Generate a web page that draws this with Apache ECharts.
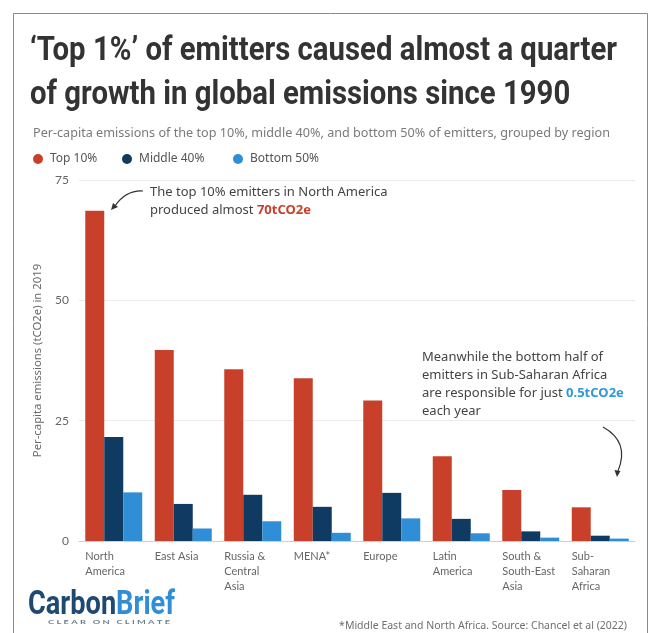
<!DOCTYPE html>
<html>
<head>
<meta charset="utf-8">
<script src="https://cdn.jsdelivr.net/npm/echarts@6/dist/echarts.min.js"></script>
<style>
html,body{margin:0;padding:0;background:#fff;}
#chart{width:654px;height:633px;}
</style>
</head>
<body>
<div id="chart"></div>
<script>
const categories = ["North\nAmerica", "East Asia", "Russia &\nCentral\nAsia", "MENA*", "Europe", "Latin\nAmerica", "South &\nSouth-East\nAsia", "Sub-\nSaharan\nAfrica"];
const seriesNames = ["Top 10%", "Middle 40%", "Bottom 50%"];
const top10 = [68.6, 39.7, 35.7, 33.8, 29.2, 17.6, 10.6, 7.0];
const middle40 = [21.6, 7.7, 9.6, 7.1, 10.0, 4.6, 2.0, 1.1];
const bottom50 = [10.1, 2.6, 4.1, 1.7, 4.7, 1.6, 0.7, 0.5];
const yTicks = {min: 0, max: 75, interval: 25};
const titleLines = ["‘Top 1%’ of emitters caused almost a quarter", "of growth in global emissions since 1990"];
const subtitleText = "Per-capita emissions of the top 10%, middle 40%, and bottom 50% of emitters, grouped by region";
const footnoteText = "*Middle East and North Africa. Source: Chancel et al (2022)";
const yAxisName = "Per-capita emissions (tCO2e) in 2019";

const colors = ["#c9402a", "#0f3b63", "#2f8ed6"];
const bodyFont = "'Noto Sans', Lato, sans-serif";
const labelFont = "Lato, 'Noto Sans', sans-serif";
const titleFont = "Roboto, 'Liberation Sans', sans-serif";

// measure helper for narrow (condensed) display fonts
const mctx = document.createElement('canvas').getContext('2d');
function measure(text, font) { mctx.font = font; return mctx.measureText(text).width; }
const titleScale = 587 / measure(titleLines[0], "bold 34px Roboto");
const logoScale = 147 / measure("CarbonBrief", "bold 33px Roboto");
const claimText = "C L E A R   O N   C L I M A T E";
const claimScale = 122 / measure(claimText, "bold 6px Lato");
const subtitleSize = Math.min(13, 12 * 578 / measure(subtitleText, "12px 'Noto Sans'"));

const legendLefts = [28, 117, 228];
const legends = seriesNames.map(function (n, i) {
  return {
    data: [n],
    left: legendLefts[i], top: 148,
    icon: 'circle',
    itemWidth: 10, itemHeight: 10,
    textStyle: {fontFamily: bodyFont, fontSize: 12, color: '#555555', padding: [0, 0, 0, 2]}
  };
});

const chart = echarts.init(document.getElementById('chart'), null, {renderer: 'canvas'});

const option = {
  backgroundColor: '#ffffff',
  animation: false,
  color: colors,
  title: [
    {
      text: subtitleText,
      left: 28, top: 122,
      textStyle: {fontFamily: bodyFont, fontWeight: 'normal', fontSize: subtitleSize, color: '#7a7a7a'}
    },
    {
      text: footnoteText,
      right: 22, top: 616,
      textStyle: {fontFamily: bodyFont, fontWeight: 'normal', fontSize: 10.5, color: '#6f6f6f'}
    }
  ],
  legend: legends,
  grid: {left: 79, right: 19, top: 180, bottom: 92, containLabel: false},
  xAxis: {
    type: 'category',
    data: categories,
    axisLine: {show: true, lineStyle: {color: '#cfcfcf', width: 1}},
    axisTick: {show: false},
    axisLabel: {
      interval: 0,
      margin: 8,
      align: 'center',
      formatter: function (v) {
        return v.split('\n').map(function (s) { return '{a|' + s + '}'; }).join('\n');
      },
      rich: {a: {width: 57, align: 'left', fontFamily: labelFont, fontSize: 11, color: '#666666', lineHeight: 15}}
    }
  },
  yAxis: {
    type: 'value',
    min: yTicks.min, max: yTicks.max, interval: yTicks.interval,
    name: yAxisName,
    nameLocation: 'middle',
    nameGap: 36,
    nameTextStyle: {fontFamily: bodyFont, fontSize: 11.3, color: '#6a6a6a'},
    axisLine: {show: false},
    axisTick: {show: false},
    axisLabel: {fontFamily: labelFont, fontSize: 12, color: '#666666', margin: 10},
    splitLine: {lineStyle: {color: '#ececec', width: 1}}
  },
  series: [
    {name: seriesNames[0], type: 'bar', data: top10, barWidth: 19, barGap: '0%', itemStyle: {color: colors[0]}},
    {name: seriesNames[1], type: 'bar', data: middle40, barWidth: 19, barGap: '0%', itemStyle: {color: colors[1]}},
    {name: seriesNames[2], type: 'bar', data: bottom50, barWidth: 19, barGap: '0%', itemStyle: {color: colors[2]}}
  ],
  graphic: [
    {type: 'rect', shape: {x: 13.5, y: 13.5, width: 634, height: 640}, style: {fill: 'none', stroke: '#8a8a8a', lineWidth: 1}, silent: true},
    {
      type: 'text', x: 30, y: 34, scaleX: titleScale,
      style: {text: titleLines[0], fontFamily: titleFont, fontWeight: 'bold', fontSize: 34, fill: '#333333'}
    },
    {
      type: 'text', x: 30, y: 78, scaleX: titleScale,
      style: {text: titleLines[1], fontFamily: titleFont, fontWeight: 'bold', fontSize: 34, fill: '#333333'}
    },
    {
      type: 'text', left: 150, top: 183,
      style: {
        text: 'The top 10% emitters in North America\nproduced almost {r|70tCO2e}',
        fontFamily: bodyFont, fontSize: 13, lineHeight: 18, fill: '#444444',
        rich: {r: {fontFamily: bodyFont, fontSize: 13, fontWeight: 'bold', fill: '#c9402a', lineHeight: 18}}
      }
    },
    {
      type: 'text', left: 422, top: 348,
      style: {
        text: 'Meanwhile the bottom half of\nemitters in Sub-Saharan Africa\nare responsible for just {b|0.5tCO2e}\neach year',
        fontFamily: bodyFont, fontSize: 13, lineHeight: 18, fill: '#444444',
        rich: {b: {fontFamily: bodyFont, fontSize: 13, fontWeight: 'bold', fill: '#2f9ad6', lineHeight: 18}}
      }
    },
    {type: 'bezierCurve', shape: {x1: 143, y1: 191, x2: 115, y2: 206, cpx1: 126, cpy1: 190}, style: {stroke: '#333', lineWidth: 1.2, fill: 'none'}},
    {type: 'polygon', shape: {points: [[111, 210], [113, 203], [118, 207]]}, style: {fill: '#333'}},
    {type: 'bezierCurve', shape: {x1: 603, y1: 427, x2: 618, y2: 471, cpx1: 630, cpy1: 442}, style: {stroke: '#333', lineWidth: 1.2, fill: 'none'}},
    {type: 'polygon', shape: {points: [[617, 477], [614.5, 470], [620.5, 471]]}, style: {fill: '#333'}},
    {
      type: 'text', x: 28, y: 589, scaleX: logoScale,
      style: {
        text: '{c|Carbon}{d|Brief}',
        rich: {
          c: {fontFamily: titleFont, fontWeight: 'bold', fontSize: 33, fill: '#1e4a72'},
          d: {fontFamily: titleFont, fontWeight: 'bold', fontSize: 33, fill: '#2f8ed6'}
        }
      }
    },
    {
      type: 'text', x: 48, y: 619, scaleX: claimScale,
      style: {text: claimText, fontFamily: labelFont, fontWeight: 'bold', fontSize: 6, fill: '#6b7f92'}
    }
  ]
};
chart.setOption(option);
</script>
</body>
</html>
